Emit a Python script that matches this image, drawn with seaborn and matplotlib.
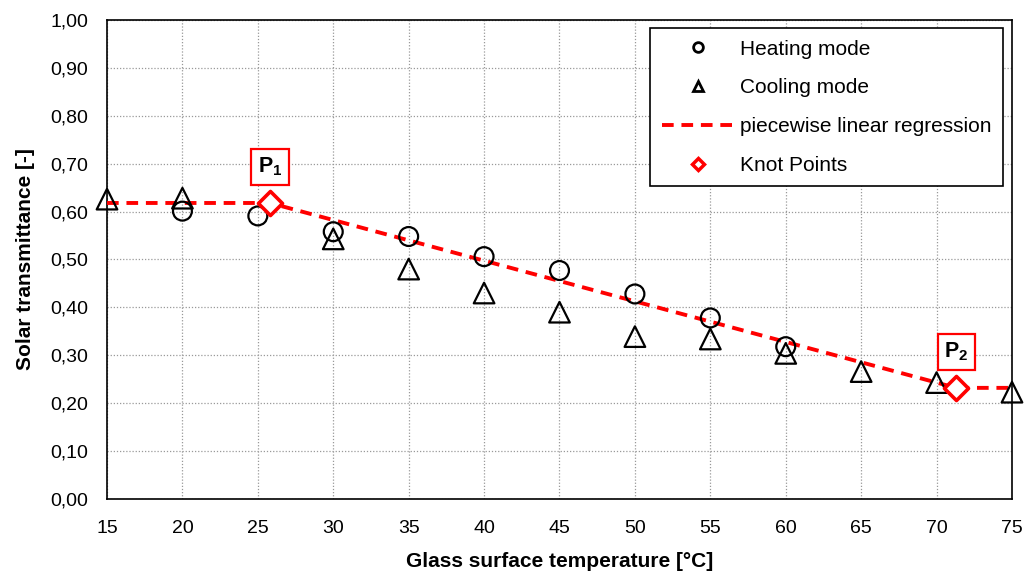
import numpy as np
import pandas as pd
import matplotlib
matplotlib.use("Agg")
import matplotlib.pyplot as plt
import seaborn as sns
from matplotlib.ticker import FuncFormatter, MultipleLocator
from matplotlib.lines import Line2D

## ---------------- datos ----------------
temp_heating = [20, 25, 30, 35, 40, 45, 50, 55, 60]
tau_heating = [0.601, 0.591, 0.558, 0.548, 0.506, 0.477, 0.428, 0.378, 0.318]

temp_cooling = [15, 20, 30, 35, 40, 45, 50, 55, 60, 65, 70, 75]
tau_cooling = [0.626, 0.628, 0.543, 0.480, 0.430, 0.390, 0.339, 0.334, 0.304, 0.266, 0.243, 0.223]

temp_regression = [15, 25.8, 71.3, 75]
tau_regression = [0.618, 0.618, 0.232, 0.232]

knot_labels = ["$\\mathrm{P}_\\mathrm{1}$", "$\\mathrm{P}_\\mathrm{2}$"]
knot_temp = [25.8, 71.3]
knot_tau = [0.618, 0.232]

df_h = pd.DataFrame({"t": temp_heating, "tau": tau_heating})
df_c = pd.DataFrame({"t": temp_cooling, "tau": tau_cooling})
df_r = pd.DataFrame({"t": temp_regression, "tau": tau_regression})
df_k = pd.DataFrame({"t": knot_temp, "tau": knot_tau})

sns.set_style("white")
plt.rcParams["font.family"] = ["Liberation Sans", "DejaVu Sans"]
## solo las etiquetas P1/P2 usan mathtext -> en negrita
plt.rcParams["mathtext.fontset"] = "custom"
plt.rcParams["mathtext.rm"] = "Liberation Sans:bold"
plt.rcParams["mathtext.it"] = "Liberation Sans:bold"
plt.rcParams["mathtext.bf"] = "Liberation Sans:bold"
for k in ["text.color", "axes.labelcolor", "xtick.color", "ytick.color"]:
    plt.rcParams[k] = "black"

fig = plt.figure(figsize=(10.25, 5.75), dpi=100)
ax = fig.add_axes([0.1044, 0.1322, 0.8829, 0.833])

## linea de regresion
sns.lineplot(data=df_r, x="t", y="tau", ax=ax, color="#ff0000", lw=2.8,
             linestyle=(0, (3, 2)), zorder=3, clip_on=False)

## puntos medidos
sns.scatterplot(data=df_h, x="t", y="tau", ax=ax, marker="o", s=185,
                facecolor="none", edgecolor="black", linewidth=1.6, zorder=4, clip_on=False)
sns.scatterplot(data=df_c, x="t", y="tau", ax=ax, marker="^", s=220,
                facecolor="none", edgecolor="black", linewidth=1.6, zorder=4, clip_on=False)
sns.scatterplot(data=df_k, x="t", y="tau", ax=ax, marker="D", s=150,
                facecolor="white", edgecolor="#ff0000", linewidth=2.6, zorder=5)

## etiquetas P1 y P2
for lab, xk, yk in zip(knot_labels, knot_temp, knot_tau):
    ax.annotate(lab, (xk, yk), xytext=(0, 26), textcoords="offset points",
                ha="center", va="center", fontsize=15.5, color="black",
                bbox=dict(boxstyle="square,pad=0.3", fc="white", ec="#ff0000", lw=1.6))

ax.set_xlim(15, 75)
ax.set_ylim(0, 1)
ax.xaxis.set_major_locator(MultipleLocator(5))
ax.yaxis.set_major_locator(MultipleLocator(0.1))
ax.yaxis.set_major_formatter(FuncFormatter(lambda v, p: f"{v:.2f}".replace(".", ",")))
ax.grid(True, color="#999999", linestyle=(0, (1, 1.5)), lw=0.9)
for s in ax.spines.values():
    s.set_color("black")
    s.set_linewidth(1.2)
ax.tick_params(labelsize=14, length=0)
ax.tick_params(axis="y", pad=13.5)
ax.tick_params(axis="x", pad=15)

ax.set_xlabel("Glass surface temperature [°C]", fontsize=15, fontweight="bold", labelpad=11)
ax.set_ylabel("Solar transmittance [-]", fontsize=15, fontweight="bold", labelpad=11)

handles = [
    Line2D([], [], marker="o", ls="none", mfc="none", mec="black", mew=2, ms=7),
    Line2D([], [], marker="^", ls="none", mfc="none", mec="black", mew=2, ms=7),
    Line2D([], [], color="#ff0000", lw=2.8, ls=(0, (3, 2))),
    Line2D([], [], marker="D", ls="none", mfc="white", mec="#ff0000", mew=2.5, ms=6.5),
]
labels = ["Heating mode", "Cooling mode", "piecewise linear regression", "Knot Points"]
leg = ax.legend(handles, labels, loc="upper right", bbox_to_anchor=(0.990, 0.983),
                borderaxespad=0, fontsize=15, frameon=True, fancybox=False,
                edgecolor="black", framealpha=1, handlelength=3.45, labelspacing=0.95,
                borderpad=0.55, handletextpad=0.3)
leg.get_frame().set_linewidth(1.2)

fig.savefig("out.png", dpi=100)
